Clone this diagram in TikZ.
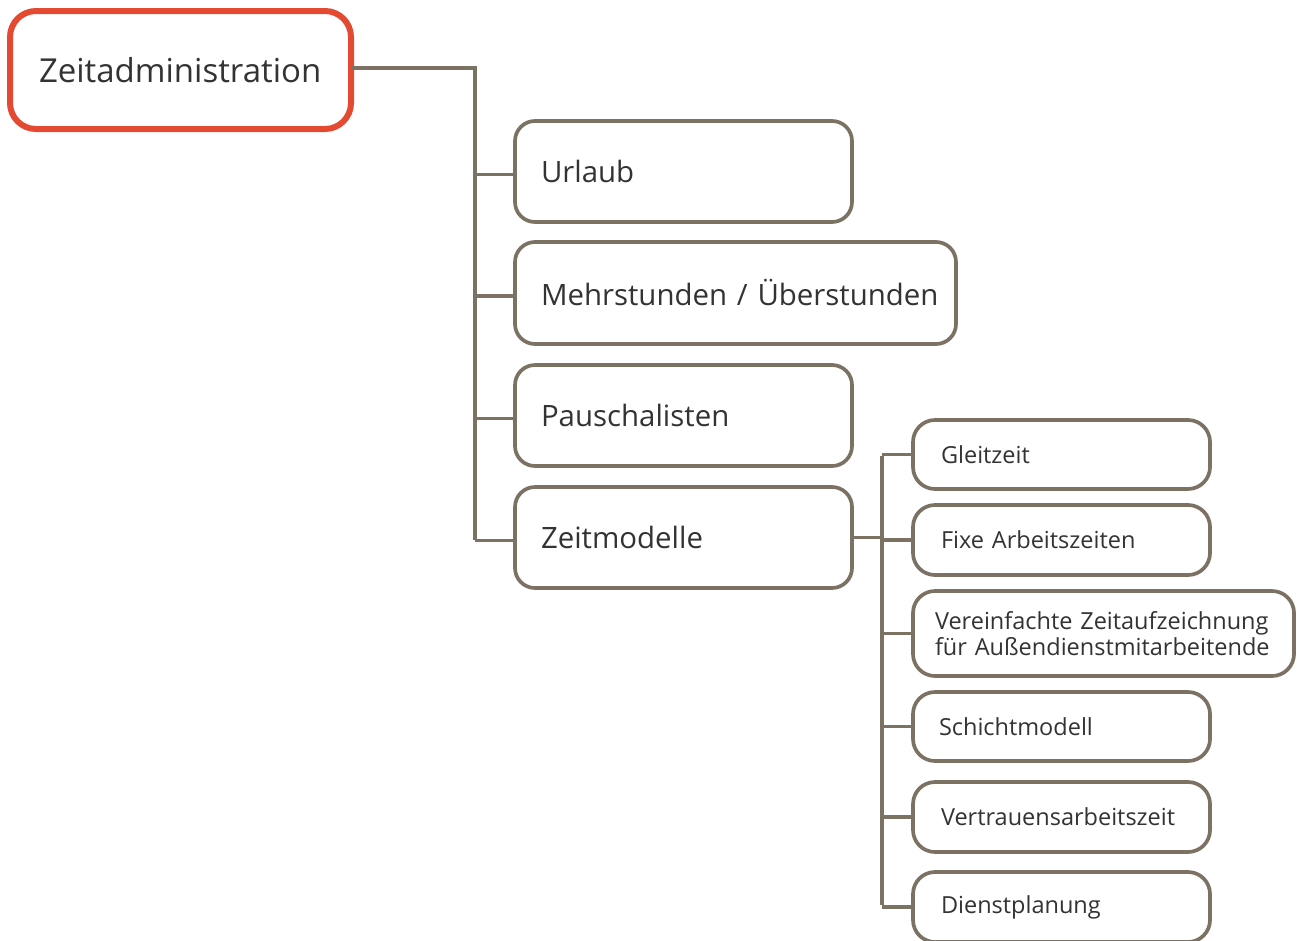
\documentclass[tikz,border=0pt]{standalone}
\usepackage{fontspec}
\setmainfont{Open Sans}
\definecolor{linegray}{HTML}{7B7263}
\definecolor{rootred}{HTML}{E44A31}
\definecolor{txt}{HTML}{333333}
\tikzset{
  conn/.style={draw=linegray, line width=3.7pt},
  boxbase/.style={draw=linegray, line width=3.7pt, fill=white, anchor=north west,
    align=left, text=txt, inner xsep=0pt, inner ysep=0pt, outer sep=0pt},
  lone/.style={boxbase, rounded corners=20pt, font=\fontsize{29.4}{35}\selectfont},
  ltwo/.style={boxbase, rounded corners=22pt, font=\fontsize{23.5}{26}\selectfont},
  rootbox/.style={boxbase, draw=rootred, line width=6pt, rounded corners=26pt, font=\fontsize{33}{38}\selectfont}
}
\begin{document}
\begin{tikzpicture}[x=1pt,y=-1pt]
\useasboundingbox (0,0) rectangle (1297,940);
\clip (0,0) rectangle (1297,940);
% root
\node[rootbox, minimum width=341pt, minimum height=118pt, text width=341pt] (root) at (10,11) {\hspace*{29pt}Zeitadministration};
% level one
\node[lone, minimum width=337pt, minimum height=101pt, text width=337pt] (urlaub) at (515,121) {\hspace*{26pt}Urlaub};
\node[lone, minimum width=441pt, minimum height=102pt, text width=441pt] (mehr) at (515,242) {\hspace*{26pt}Mehrstunden / Überstunden};
\node[lone, minimum width=337pt, minimum height=101pt, text width=337pt] (pausch) at (515,365) {\hspace*{26pt}Pauschalisten};
\node[lone, minimum width=337pt, minimum height=101pt, text width=337pt] (zeit) at (515,487) {\hspace*{26pt}Zeitmodelle};
% level two
\node[ltwo, minimum width=297pt, minimum height=69pt, text width=297pt] (gleit) at (913,420) {\hspace*{28pt}Gleitzeit};
\node[ltwo, minimum width=297pt, minimum height=70pt, text width=297pt] (fixe) at (913,505) {\hspace*{28pt}Fixe Arbeitszeiten};
\node[ltwo, minimum width=381pt, minimum height=85pt, text width=381pt] (verein) at (913,591) {\hspace*{22pt}Vereinfachte Zeitaufzeichnung\\\hspace*{22pt}für Außendienstmitarbeitende};
\node[ltwo, minimum width=297pt, minimum height=69pt, text width=297pt] (schicht) at (913,692) {\hspace*{26pt}Schichtmodell};
\node[ltwo, minimum width=297pt, minimum height=70pt, text width=297pt] (vertrauen) at (913,782) {\hspace*{28pt}Vertrauensarbeitszeit};
\node[ltwo, minimum width=297pt, minimum height=70pt, text width=297pt] (dienst) at (913,872) {\hspace*{28pt}Dienstplanung};
% trunk 1
\coordinate (ta) at (475,68);
\coordinate (tb) at (475,540);
\draw[conn] ([yshift=2pt]root.east) -- (ta) -- (tb);
\foreach \n in {urlaub,mehr,pausch,zeit}{
  \draw[conn] ([yshift=-3pt]\n.west) -- ([yshift=-3pt]\n.west -| ta);
}
% trunk 2
\coordinate (sa) at (882,456);
\coordinate (sb) at (882,905);
\draw[conn] (zeit.east) -- (zeit.east -| sa);
\draw[conn] (sa) -- (sb);
\foreach \n in {gleit,fixe,verein,schicht,vertrauen,dienst}{
  \draw[conn] (\n.west) -- (\n.west -| sa);
}
\end{tikzpicture}
\end{document}
